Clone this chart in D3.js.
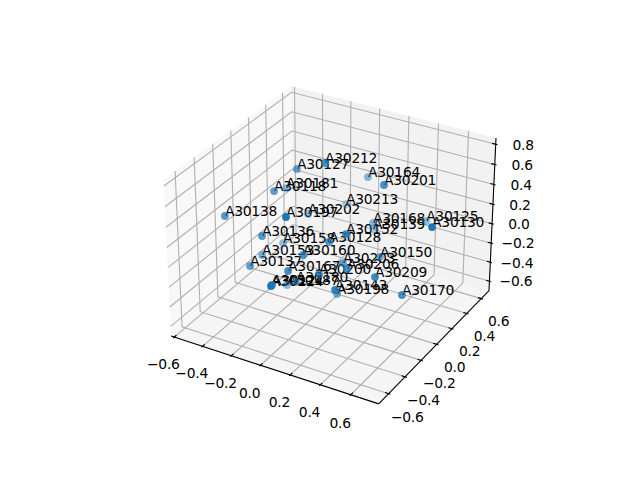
<!DOCTYPE html>
<html>
<head>
<meta charset="utf-8">
<script src="https://cdn.jsdelivr.net/npm/d3@7"></script>
<style>
body { margin: 0; background: #fff; }
svg text { font-family: "DejaVu Sans"; font-size: 13.89px; letter-spacing: -0.25px; fill: #000; }
</style>
</head>
<body>
<div id="chart"></div>
<script>
// Points
const names = ["A30212","A30127","A30164","A30201","A30118","A30181","A30138","A30197","A30202","A30213","A30136","A30158","A30128","A30152","A30168","A30139","A30125","A30130","A30150","A30203","A30206","A30200","A30209","A30170","A30143","A30198","A30160","A30153","A30137","A30167","A30180","A30224","A30121","A30187"];
const xs = [0.030,-0.206,0.072,0.357,-0.255,-0.373,-0.431,0.051,-0.252,-0.133,-0.215,-0.305,0.131,0.270,0.167,0.082,0.411,0.777,0.286,0.200,0.293,0.127,0.476,0.606,0.328,0.151,0.053,-0.327,-0.267,0.001,-0.111,0.075,-0.025,-0.187];
const ys = [-0.012,0.065,0.435,0.105,-0.119,0.213,-0.386,-0.494,0.269,0.531,-0.327,0.057,-0.144,-0.190,0.329,0.489,0.556,-0.100,0.202,-0.099,-0.218,-0.256,-0.214,-0.122,-0.420,-0.083,-0.311,-0.151,-0.384,-0.396,-0.119,-0.708,-0.535,-0.098];
const zs = [0.802,0.599,0.378,0.639,0.486,0.239,0.353,0.622,-0.018,-0.049,0.203,-0.189,0.158,0.330,0.023,-0.191,-0.017,0.549,-0.183,-0.057,0.014,-0.082,0.012,-0.180,-0.025,-0.408,0.118,-0.168,-0.079,-0.001,-0.375,0.122,-0.047,-0.457];

const xTicks = [-0.6,-0.4,-0.2,0,0.2,0.4,0.6];
const yTicks = [-0.6,-0.4,-0.2,0,0.2,0.4,0.6];
const zTicks = [-0.6,-0.4,-0.2,0,0.2,0.4,0.6,0.8];
const xLim = [-0.594,0.752], yLim = [-0.69,0.68], zLim = [-0.67,0.83];

const width = 640, height = 480;
const svg = d3.select('#chart').append('svg').attr('width', width).attr('height', height);

// same view as a default mplot3d axes: elev 30, azim -60, dist 10
const elev = 30 * Math.PI / 180, azim = -60 * Math.PI / 180, dist = 10;
const nrm = Math.hypot(4, 4, 3);
const box = [4, 4, 3].map(v => v * 1.8294640721620434 / nrm);
const bx = d3.scaleLinear().domain(xLim).range([0, box[0]]);
const by = d3.scaleLinear().domain(yLim).range([0, box[1]]);
const bz = d3.scaleLinear().domain(zLim).range([0, box[2]]);
const w = [Math.cos(elev) * Math.cos(azim), Math.cos(elev) * Math.sin(azim), Math.sin(elev)];
const u = [-w[1], w[0], 0].map(v => v / Math.hypot(w[0], w[1]));
const v = [w[1] * u[2] - w[2] * u[1], w[2] * u[0] - w[0] * u[2], w[0] * u[1] - w[1] * u[0]];
const sx = d3.scaleLinear().domain([-0.095, 0.09]).range([143.2, 512.8]);
const sy = d3.scaleLinear().domain([-0.095, 0.09]).range([427.2, 57.6]);
const dot = (a, b) => a[0] * b[0] + a[1] * b[1] + a[2] * b[2];

function project(x, y, z) {
    const p = [bx(x) - box[0] / 2, by(y) - box[1] / 2, bz(z) - box[2] / 2];
    const d = dot(p, w);
    return { x: sx(dot(p, u) / (dist - d)), y: sy(dot(p, v) / (dist - d)), d };
}

// panes reach 1/48 of the range past the limits
const pad = l => [l[0] - (l[1] - l[0]) / 48, l[1] + (l[1] - l[0]) / 48];
const [x0, x1] = pad(xLim), [y0, y1] = pad(yLim), [z0, z1] = pad(zLim);
const dx = (x1 - x0) / 12, dy = (y1 - y0) / 12, dz = (z1 - z0) / 12;
const line = d3.line().x(d => d.x).y(d => d.y);
const path3 = corners => line(corners.map(c => project(c[0], c[1], c[2])));

const g = svg.append('g');
g.append('path').attr('d', path3([[x0,y0,z0],[x0,y1,z0],[x0,y1,z1],[x0,y0,z1]]) + 'Z').attr('fill', 'rgb(242,242,242)').attr('fill-opacity', 0.5);
g.append('path').attr('d', path3([[x0,y1,z0],[x1,y1,z0],[x1,y1,z1],[x0,y1,z1]]) + 'Z').attr('fill', 'rgb(230,230,230)').attr('fill-opacity', 0.5);
g.append('path').attr('d', path3([[x0,y0,z0],[x1,y0,z0],[x1,y1,z0],[x0,y1,z0]]) + 'Z').attr('fill', 'rgb(236,236,236)').attr('fill-opacity', 0.5);

function stroke(sel, color) {
    return sel.attr('fill', 'none').attr('stroke', color).attr('stroke-width', 1.11);
}
// grid
xTicks.forEach(t => stroke(g.append('path').attr('d', path3([[t,y0,z0],[t,y1,z0],[t,y1,z1]])), '#b0b0b0'));
yTicks.forEach(t => stroke(g.append('path').attr('d', path3([[x1,t,z0],[x0,t,z0],[x0,t,z1]])), '#b0b0b0'));
zTicks.forEach(t => stroke(g.append('path').attr('d', path3([[x0,y0,t],[x0,y1,t],[x1,y1,t]])), '#b0b0b0'));
// axis lines
stroke(g.append('path').attr('d', path3([[x0,y0,z0],[x1,y0,z0]])), '#000');
stroke(g.append('path').attr('d', path3([[x1,y0,z0],[x1,y1,z0]])), '#000');
stroke(g.append('path').attr('d', path3([[x1,y1,z0],[x1,y1,z1]])), '#000');
// ticks and their labels
const fmt = t => d3.format('.1f')(t).replace('-', '\u2212');
function tickLabel(p, t) {
    g.append('text').attr('x', p.x).attr('y', p.y + 9).attr('text-anchor', 'middle').text(fmt(t));
}
const lab = 1.037;
xTicks.forEach(t => {
    stroke(g.append('path').attr('d', path3([[t,y0+0.2*dy,z0],[t,y0-0.1*dy,z0]])), '#000');
    tickLabel(project(t, y0 - lab*dy, z0 - lab*dz), t);
});
yTicks.forEach(t => {
    stroke(g.append('path').attr('d', path3([[x1-0.2*dx,t,z0],[x1+0.1*dx,t,z0]])), '#000');
    tickLabel(project(x1 + lab*dx, t, z0 - lab*dz), t);
});
zTicks.forEach(t => {
    stroke(g.append('path').attr('d', path3([[x1-0.2*dx,y1,t],[x1+0.1*dx,y1,t]])), '#000');
    tickLabel(project(x1 + lab*dx, y1 + lab*dy, t), t);
});

// labels go under the dots
const placed = names.map((name, i) => Object.assign({ name }, project(xs[i], ys[i], zs[i])));
svg.append('g').selectAll('text').data(placed).enter().append('text')
    .attr('x', d => d.x).attr('y', d => d.y).text(d => d.name);

const alpha = d3.scaleLinear().domain(d3.extent(placed, d => d.d)).range([0.3, 1]);
svg.append('g').selectAll('circle')
    .data(placed.slice().sort((a, b) => a.d - b.d)).enter().append('circle')
    .attr('cx', d => d.x).attr('cy', d => d.y).attr('r', 3)
    .attr('fill', '#1f77b4').attr('stroke', '#1f77b4').attr('stroke-width', 1.8)
    .attr('opacity', d => alpha(d.d));
</script>
</body>
</html>
